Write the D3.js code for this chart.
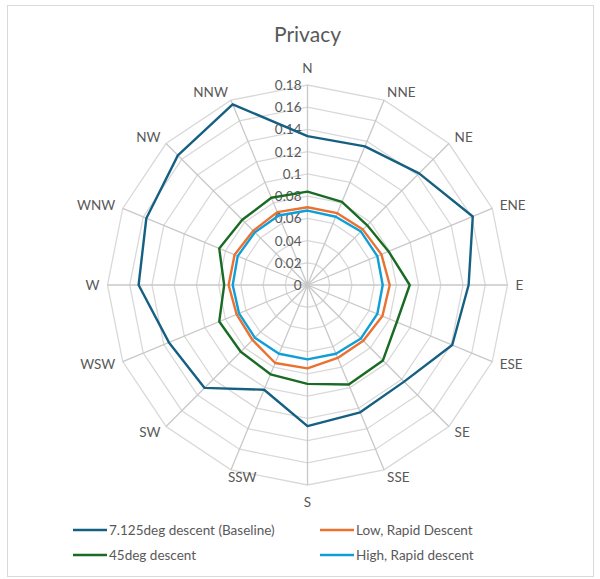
<!DOCTYPE html>
<html>
<head>
<meta charset="utf-8">
<script src="https://cdn.jsdelivr.net/npm/d3@7"></script>
<style>
  html, body { margin: 0; padding: 0; background: #fff; }
  svg { display: block; font-family: Lato, "Open Sans", "Liberation Sans", sans-serif; }
</style>
</head>
<body>
<svg id="chart" width="600" height="579"></svg>
<script>
// Compass directions, clockwise from north
const directions = ["N", "NNE", "NE", "ENE", "E", "ESE", "SE", "SSE",
                    "S", "SSW", "SW", "WSW", "W", "WNW", "NW", "NNW"];

// Privacy metric per direction for each descent profile
const baseline = [0.134, 0.135, 0.142, 0.161, 0.145, 0.141, 0.123, 0.124,
                  0.127, 0.102, 0.131, 0.135, 0.152, 0.157, 0.165, 0.176];
const deg45 = [0.084, 0.081, 0.076, 0.079, 0.092, 0.087, 0.096, 0.097,
               0.089, 0.087, 0.085, 0.086, 0.075, 0.086, 0.083, 0.085];
const lowRapid = [0.070, 0.070, 0.0705, 0.072, 0.074, 0.073, 0.071, 0.071,
                  0.075, 0.076, 0.070, 0.069, 0.071, 0.071, 0.069, 0.071];
const highRapid = [0.067, 0.0665, 0.068, 0.068, 0.0677, 0.068, 0.068, 0.067,
                   0.067, 0.067, 0.067, 0.0667, 0.0673, 0.068, 0.067, 0.0677];

const seriesNames = ["7.125deg descent (Baseline)", "Low, Rapid Descent",
                     "45deg descent", "High, Rapid descent"];
const tickValues = [0, 0.02, 0.04, 0.06, 0.08, 0.1, 0.12, 0.14, 0.16, 0.18];

const series = [
  { name: seriesNames[0], values: baseline,  color: "#156082" },
  { name: seriesNames[1], values: lowRapid,  color: "#E97132" },
  { name: seriesNames[2], values: deg45,     color: "#196B24" },
  { name: seriesNames[3], values: highRapid, color: "#0F9ED5" }
];

const svg = d3.select("#chart");
const cx = 307.5, cy = 285, R = 200;

// chart frame
svg.append("rect")
  .attr("x", 7.5).attr("y", 5.5).attr("width", 586).attr("height", 571)
  .attr("fill", "#fff").attr("stroke", "#d9d9d9").attr("stroke-width", 1);

// title
svg.append("text")
  .attr("x", cx).attr("y", 42)
  .attr("text-anchor", "middle")
  .attr("font-size", 21)
  .attr("fill", "#595959")
  .text("Privacy");

const r = d3.scaleLinear().domain([0, 0.18]).range([0, R]);
const step = 2 * Math.PI / directions.length;
const ang = d => directions.indexOf(d) * step;

const g = svg.append("g").attr("transform", `translate(${cx},${cy})`);

// polygon rings
const ringLine = d3.lineRadial().angle(d => ang(d.dir)).radius(d => r(d.v)).curve(d3.curveLinearClosed);
tickValues.slice(1).forEach(t => {
  g.append("path")
    .attr("d", ringLine(directions.map(dir => ({ dir, v: t }))))
    .attr("fill", "none")
    .attr("stroke", "#d9d9d9")
    .attr("stroke-width", 1.3);
});

// spokes
directions.forEach(dir => {
  const a = ang(dir);
  g.append("line")
    .attr("x1", 0).attr("y1", 0)
    .attr("x2", r(0.18) * Math.sin(a))
    .attr("y2", -r(0.18) * Math.cos(a))
    .attr("stroke", "#c8c8c8")
    .attr("stroke-width", 1.3);
});

// radial tick labels along the north spoke
tickValues.forEach(t => {
  g.append("text")
    .attr("x", -6)
    .attr("y", -r(t) + 5)
    .attr("text-anchor", "end")
    .attr("font-size", 13.5)
    .attr("fill", "#595959")
    .text(d3.format("~g")(t));
});

// direction labels, placed just beyond the end of each spoke
directions.forEach(dir => {
  const a = ang(dir);
  const s = Math.sin(a), c = Math.cos(a);
  const rr = R + 8;
  let px = rr * s, py = -rr * c;
  let anchor = Math.abs(s) < 0.1 ? "middle" : (s > 0 ? "start" : "end");
  if (Math.abs(s) < 0.1) py += c > 0 ? -9 : 9;
  // lower-left near-vertical label sits right of its spoke
  if (s < -0.1 && s > -0.5 && c < 0) { anchor = "start"; px = R * s - 3; }
  g.append("text")
    .attr("x", px)
    .attr("y", py + 4.5)
    .attr("text-anchor", anchor)
    .attr("font-size", 13.5)
    .attr("fill", "#595959")
    .text(dir);
});

// data series
const dataLine = d3.lineRadial()
  .angle((d, i) => i * step)
  .radius(d => r(d))
  .curve(d3.curveLinearClosed);

[series[0], series[2], series[1], series[3]].forEach(s => {
  g.append("path")
    .attr("d", dataLine(s.values))
    .attr("fill", "none")
    .attr("stroke", s.color)
    .attr("stroke-width", 2.4)
    .attr("stroke-linejoin", "round");
});

// legend
const legendPos = [
  { x: 73, y: 530 }, { x: 320, y: 530 },
  { x: 73, y: 555 }, { x: 320, y: 555 }
];
series.forEach((s, i) => {
  const p = legendPos[i];
  svg.append("line")
    .attr("x1", p.x).attr("x2", p.x + 34)
    .attr("y1", p.y).attr("y2", p.y)
    .attr("stroke", s.color).attr("stroke-width", 2.4);
  svg.append("text")
    .attr("x", p.x + 36).attr("y", p.y + 5)
    .attr("font-size", 13.5)
    .attr("fill", "#595959")
    .text(s.name);
});
</script>
</body>
</html>
